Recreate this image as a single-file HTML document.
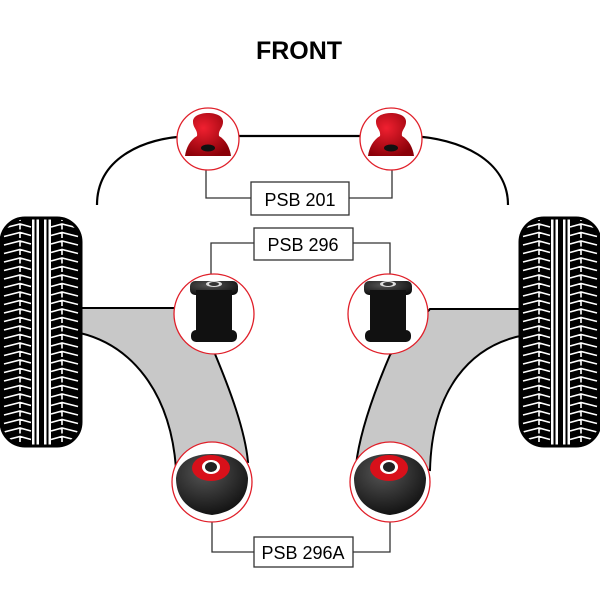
<!DOCTYPE html>
<html><head><meta charset="utf-8"><style>
html,body{margin:0;padding:0;background:#fff;}
svg{display:block}
</style></head><body>
<svg width="600" height="600" viewBox="0 0 600 600" xmlns="http://www.w3.org/2000/svg">
<defs>
<pattern id="tread" x="0" y="0" width="82" height="8.5" patternUnits="userSpaceOnUse">
 <path d="M4 7 L20 3 L31 6 M20 3 V12 M51 6 L62 3 L78 7 M62 3 V12" stroke="#fff" stroke-width="1.6" fill="none"/>
</pattern>
<radialGradient id="red" cx="0.4" cy="0.35" r="0.7"><stop offset="0" stop-color="#f02030"/><stop offset="1" stop-color="#8a0008"/></radialGradient>
<radialGradient id="blk" cx="0.4" cy="0.3" r="0.8"><stop offset="0" stop-color="#555"/><stop offset="1" stop-color="#0a0a0a"/></radialGradient>
<clipPath id="tc"><rect x="0" y="217" width="82" height="230" rx="24"/></clipPath>
<g id="tire">
 <g clip-path="url(#tc)">
 <rect x="0" y="217" width="82" height="230" fill="#000"/>
 <rect x="0" y="219" width="82" height="226" fill="url(#tread)"/>
 <rect x="32" y="217" width="2.5" height="230" fill="#fff"/><rect x="36.5" y="217" width="2.5" height="230" fill="#fff"/>
 <rect x="44" y="217" width="2.5" height="230" fill="#fff"/><rect x="48.5" y="217" width="2.5" height="230" fill="#fff"/>
 </g>
 <rect x="1" y="218" width="80" height="228" rx="24" fill="none" stroke="#000" stroke-width="3"/>
</g>
</defs>
<text x="299" y="59" text-anchor="middle" font-family="Liberation Sans, sans-serif" font-weight="bold" font-size="25" fill="#000">FRONT</text>
<path d="M97 205 C97 160 140 138 190 136 L410 136 C460 138 508 160 508 205" fill="none" stroke="#000" stroke-width="2.2"/>
<path d="M80 308 L176 308 L215 354 C230 390 245 430 248 462 L176 468 C170 390 130 345 80 333 Z" fill="#c8c8c8" stroke="#000" stroke-width="2"/>
<path d="M525 309 L430 309 L390 355 C375 390 360 430 356 465 L430 470 C432 390 470 345 525 335 Z" fill="#c8c8c8" stroke="#000" stroke-width="2"/>
<use href="#tire"/>
<use href="#tire" transform="translate(519,0)"/>
<g fill="none" stroke="#333" stroke-width="1.3">
 <path d="M206 170 V198 H251 M349 198 H392 V170"/>
 <path d="M211 274 V243 H254 M353 243 H390 V274"/>
 <path d="M212 522 V552 H254 M353 552 H390 V522"/>
</g>
<g font-family="Liberation Sans, sans-serif" font-size="18" fill="#000" text-anchor="middle">
 <rect x="251" y="182" width="98" height="33" fill="#fff" stroke="#333" stroke-width="1.3"/>
 <text x="300" y="206">PSB 201</text>
 <rect x="254" y="228" width="99" height="32" fill="#fff" stroke="#333" stroke-width="1.3"/>
 <text x="303" y="251">PSB 296</text>
 <rect x="254" y="537" width="99" height="30" fill="#fff" stroke="#333" stroke-width="1.3"/>
 <text x="303" y="559">PSB 296A</text>
</g>
<g id="tb">
<circle cx="208" cy="139" r="31" fill="#fff" stroke="#e0202a" stroke-width="1.3"/>
<path d="M193 122 C192 110 224 110 223 122 C223 128 218 130 219 136 C226 140 230 148 231 156 L185 156 C186 148 190 140 197 136 C198 130 193 128 193 122 Z" fill="url(#red)"/>
<ellipse cx="208" cy="148" rx="7" ry="3.5" fill="#111"/>
</g>
<use href="#tb" transform="translate(183,0)"/>
<g id="mb">
<circle cx="214" cy="314" r="40" fill="#fff" stroke="#e0202a" stroke-width="1.3"/>
<rect x="190" y="281" width="48" height="14" rx="5" fill="url(#blk)"/>
<rect x="196" y="290" width="36" height="43" fill="#111"/>
<rect x="191" y="330" width="46" height="12" rx="5" fill="#111"/>
<ellipse cx="214" cy="284" rx="8" ry="3" fill="#ddd"/>
<ellipse cx="214" cy="284" rx="5" ry="2" fill="#333"/>
</g>
<use href="#mb" transform="translate(174,0)"/>
<g id="bb">
<circle cx="212" cy="482" r="40" fill="#fff" stroke="#e0202a" stroke-width="1.3"/>
<path d="M176 478 C178 460 194 454 212 454 C230 454 246 460 248 478 C248 498 236 512 212 515 C188 512 176 498 176 478 Z" fill="url(#blk)"/>
<ellipse cx="211" cy="468" rx="19" ry="13" fill="#d8101a"/>
<ellipse cx="211" cy="467" rx="9" ry="7" fill="#fff"/>
<ellipse cx="211" cy="467" rx="6" ry="5" fill="#222"/>
</g>
<use href="#bb" transform="translate(178,0)"/>
</svg>
</body></html>
